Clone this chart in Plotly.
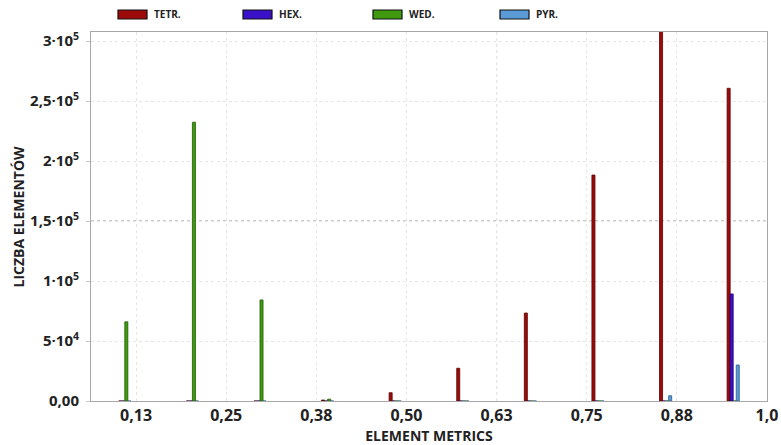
import plotly.graph_objects as go

# Histogram bins of the element quality metric (bin centres)
bin_centers = [0.109375, 0.203125, 0.296875, 0.390625, 0.484375,
               0.578125, 0.671875, 0.765625, 0.859375, 0.953125]

# Element counts per bin for each element type
tetr = [0, 0, 0, 800, 6900, 27300, 73300, 188300, 315000, 260600]
hexa = [0, 0, 0, 0, 0, 0, 0, 0, 0, 89200]
wed = [66000, 232300, 84200, 1500, 0, 0, 0, 0, 0, 0]
pyr = [0, 0, 0, 0, 0, 0, 0, 0, 4400, 30000]

series_names = ["TETR.", "HEX.", "WED.", "PYR."]
fill_colors = ["#9c0a0a", "#3a10c8", "#3f9a10", "#5b9bd5"]
edge_colors = ["#5a0000", "#1a0070", "#1f5a00", "#2a5a90"]

x_ticks = [0.125, 0.25, 0.375, 0.5, 0.625, 0.75, 0.875, 1.0]
x_labels = ["0,13", "0,25", "0,38", "0,50", "0,63", "0,75", "0,88", "1,0"]
y_ticks = [0, 50000, 100000, 150000, 200000, 250000, 300000]
y_labels = ["0,00", "5·10<sup>4</sup>", "1·10<sup>5</sup>", "1,5·10<sup>5</sup>",
            "2·10<sup>5</sup>", "2,5·10<sup>5</sup>", "3·10<sup>5</sup>"]

FONT = "Liberation Sans Narrow, Open Sans, Arial"

fig = go.Figure()
for name, vals, fc, ec in zip(series_names, [tetr, hexa, wed, pyr], fill_colors, edge_colors):
    fig.add_trace(go.Bar(
        x=bin_centers, y=vals, name=name,
        marker=dict(color=fc, line=dict(color=ec, width=0.8)),
        showlegend=False,
    ))

# plot area in pixels: left 91, right 767, top 32, bottom 401
W, H = 781, 445
L, R, T, B = 91, 767, 32, 401


def px_x(p):
    return (p - L) / (R - L)


def px_y(p):
    return (B - p) / (B - T)


shapes = []
annotations = []
legend_x = [118, 243, 373, 500]
for name, fc, lx in zip(series_names, fill_colors, legend_x):
    shapes.append(dict(type="rect", xref="paper", yref="paper",
                       x0=px_x(lx), x1=px_x(lx + 29), y0=px_y(19), y1=px_y(10),
                       fillcolor=fc, line=dict(color="#111111", width=1.2)))
    annotations.append(dict(xref="paper", yref="paper", x=px_x(lx + 34), y=px_y(14.5),
                            text=name, showarrow=False, xanchor="left", yanchor="middle",
                            font=dict(family=FONT, size=10, color="#222222", weight="bold")))

# y-axis title placed as a rotated annotation
annotations.append(dict(xref="paper", yref="paper", x=px_x(18), y=0.5,
                        text="LICZBA ELEMENTÓW", showarrow=False, textangle=-90,
                        xanchor="center", yanchor="middle",
                        font=dict(family=FONT, size=14, color="#222222", weight="bold")))

# emphasised centre grid lines
shapes.append(dict(type="line", xref="x", yref="paper", x0=0.625, x1=0.625, y0=0, y1=1,
                   line=dict(color="#9a9a9a", width=1, dash="dot"), layer="below"))
shapes.append(dict(type="line", xref="paper", yref="y", x0=0, x1=1, y0=150000, y1=150000,
                   line=dict(color="#9a9a9a", width=1, dash="dot"), layer="below"))

fig.update_layout(
    width=W, height=H,
    margin=dict(l=L, r=W - R, t=T, b=H - B),
    paper_bgcolor="white", plot_bgcolor="white",
    barmode="group", bargap=0.82, bargroupgap=0,
    shapes=shapes, annotations=annotations,
    font=dict(family=FONT, color="#222222"),
)
fig.update_xaxes(
    range=[0.0625, 1.0], tickvals=x_ticks, ticktext=x_labels,
    tickfont=dict(size=16, weight="bold", color="#222222"),
    showgrid=True, gridcolor="#e6e6e6", griddash="dot", gridwidth=1,
    showline=True, linecolor="#a8a8a8", linewidth=1, mirror=True,
    ticks="", zeroline=False, automargin=False,
    title=dict(text="ELEMENT METRICS", standoff=4,
               font=dict(size=14, weight="bold", color="#222222")),
)
fig.update_yaxes(
    range=[0, 307500], tickvals=y_ticks, ticktext=y_labels,
    tickfont=dict(size=15, weight="bold", color="#222222"),
    showgrid=True, gridcolor="#e6e6e6", griddash="dot", gridwidth=1,
    showline=True, linecolor="#a8a8a8", linewidth=1, mirror=True,
    ticks="outside", ticklen=4, tickcolor="#c8c8c8", ticklabelstandoff=4,
    zeroline=False, automargin=False,
)

fig.write_html("out.html")
